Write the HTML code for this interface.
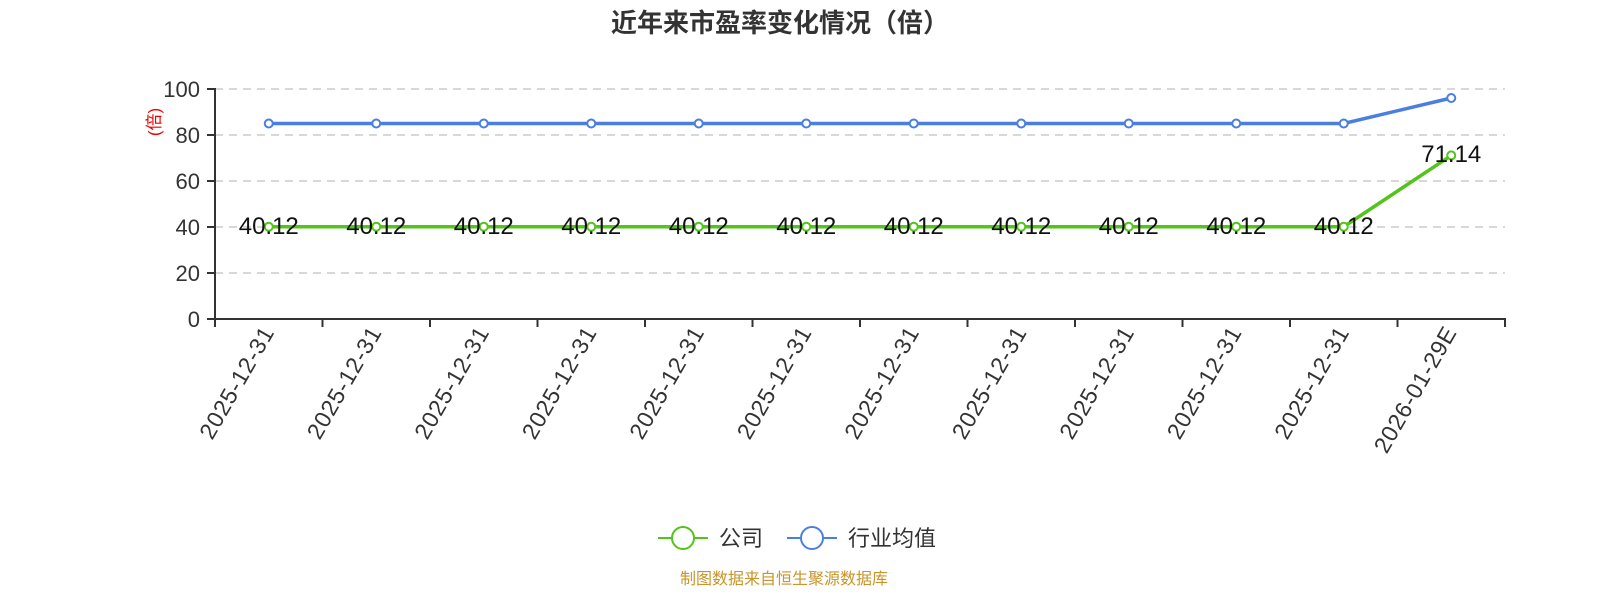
<!DOCTYPE html>
<html><head><meta charset="utf-8"><style>
body{margin:0;background:#fff;}
svg{display:block;font-family:"Liberation Sans","Noto Sans CJK SC",sans-serif;}
</style></head><body>
<svg width="1600" height="600" viewBox="0 0 1600 600" xmlns="http://www.w3.org/2000/svg">
<text x="780" y="32" text-anchor="middle" font-size="26" font-weight="bold" fill="#333">近年来市盈率变化情况（倍）</text>
<g stroke="#ccc" stroke-width="1.5" stroke-dasharray="8,6">
<line x1="215" y1="89" x2="1505" y2="89"/><line x1="215" y1="135" x2="1505" y2="135"/>
<line x1="215" y1="181" x2="1505" y2="181"/><line x1="215" y1="227" x2="1505" y2="227"/>
<line x1="215" y1="273" x2="1505" y2="273"/>
</g>
<g stroke="#333" stroke-width="2">
<line x1="215" y1="88" x2="215" y2="320"/><line x1="214" y1="319" x2="1506" y2="319"/>
<line x1="207" y1="89" x2="215" y2="89"/><line x1="207" y1="135" x2="215" y2="135"/><line x1="207" y1="181" x2="215" y2="181"/><line x1="207" y1="227" x2="215" y2="227"/><line x1="207" y1="273" x2="215" y2="273"/><line x1="207" y1="319" x2="215" y2="319"/>
<line x1="215" y1="319" x2="215" y2="327"/><line x1="322.5" y1="319" x2="322.5" y2="327"/><line x1="430" y1="319" x2="430" y2="327"/><line x1="537.5" y1="319" x2="537.5" y2="327"/><line x1="645" y1="319" x2="645" y2="327"/><line x1="752.5" y1="319" x2="752.5" y2="327"/><line x1="860" y1="319" x2="860" y2="327"/><line x1="967.5" y1="319" x2="967.5" y2="327"/><line x1="1075" y1="319" x2="1075" y2="327"/><line x1="1182.5" y1="319" x2="1182.5" y2="327"/><line x1="1290" y1="319" x2="1290" y2="327"/><line x1="1397.5" y1="319" x2="1397.5" y2="327"/><line x1="1505" y1="319" x2="1505" y2="327"/>
</g>
<g font-size="22" fill="#333" text-anchor="end">
<text x="200" y="97">100</text><text x="200" y="143">80</text><text x="200" y="189">60</text><text x="200" y="235">40</text><text x="200" y="281">20</text><text x="200" y="327">0</text>
</g>
<text transform="translate(160,122) rotate(-90)" text-anchor="middle" font-size="17" fill="#e00">(倍)</text>
<g font-size="23" fill="#333" text-anchor="end" letter-spacing="0.8">
<text transform="translate(275,332) rotate(-60)">2025-12-31</text>
<text transform="translate(382.5,332) rotate(-60)">2025-12-31</text>
<text transform="translate(490,332) rotate(-60)">2025-12-31</text>
<text transform="translate(597.5,332) rotate(-60)">2025-12-31</text>
<text transform="translate(705,332) rotate(-60)">2025-12-31</text>
<text transform="translate(812.5,332) rotate(-60)">2025-12-31</text>
<text transform="translate(920,332) rotate(-60)">2025-12-31</text>
<text transform="translate(1027.5,332) rotate(-60)">2025-12-31</text>
<text transform="translate(1135,332) rotate(-60)">2025-12-31</text>
<text transform="translate(1242.5,332) rotate(-60)">2025-12-31</text>
<text transform="translate(1350,332) rotate(-60)">2025-12-31</text>
<text transform="translate(1457.5,332) rotate(-60)">2026-01-29E</text>
</g>
<polyline fill="none" stroke="#4a7fe0" stroke-width="3.5" points="268.75,123.5 1343.75,123.5 1451.25,98"/>
<polyline fill="none" stroke="#52c41a" stroke-width="3.5" points="268.75,226.7 1343.75,226.7 1451.25,155.4"/>
<g fill="#fff" stroke="#4a7fe0" stroke-width="2">
<circle cx="268.75" cy="123.5" r="4"/><circle cx="376.25" cy="123.5" r="4"/><circle cx="483.75" cy="123.5" r="4"/><circle cx="591.25" cy="123.5" r="4"/><circle cx="698.75" cy="123.5" r="4"/><circle cx="806.25" cy="123.5" r="4"/><circle cx="913.75" cy="123.5" r="4"/><circle cx="1021.25" cy="123.5" r="4"/><circle cx="1128.75" cy="123.5" r="4"/><circle cx="1236.25" cy="123.5" r="4"/><circle cx="1343.75" cy="123.5" r="4"/><circle cx="1451.25" cy="98" r="4"/>
</g>
<g fill="#fff" stroke="#52c41a" stroke-width="2">
<circle cx="268.75" cy="226.7" r="4"/><circle cx="376.25" cy="226.7" r="4"/><circle cx="483.75" cy="226.7" r="4"/><circle cx="591.25" cy="226.7" r="4"/><circle cx="698.75" cy="226.7" r="4"/><circle cx="806.25" cy="226.7" r="4"/><circle cx="913.75" cy="226.7" r="4"/><circle cx="1021.25" cy="226.7" r="4"/><circle cx="1128.75" cy="226.7" r="4"/><circle cx="1236.25" cy="226.7" r="4"/><circle cx="1343.75" cy="226.7" r="4"/><circle cx="1451.25" cy="155.4" r="4"/>
</g>
<g font-size="24" fill="#111" text-anchor="middle">
<text x="268.75" y="234">40.12</text><text x="376.25" y="234">40.12</text><text x="483.75" y="234">40.12</text><text x="591.25" y="234">40.12</text><text x="698.75" y="234">40.12</text><text x="806.25" y="234">40.12</text><text x="913.75" y="234">40.12</text><text x="1021.25" y="234">40.12</text><text x="1128.75" y="234">40.12</text><text x="1236.25" y="234">40.12</text><text x="1343.75" y="234">40.12</text><text x="1451.25" y="162">71.14</text>
</g>
<line x1="658" y1="538" x2="708" y2="538" stroke="#52c41a" stroke-width="2"/>
<circle cx="683" cy="538" r="11" fill="#fff" stroke="#52c41a" stroke-width="2"/>
<text x="719" y="546" font-size="22" fill="#333">公司</text>
<line x1="787" y1="538" x2="837" y2="538" stroke="#4a7fe0" stroke-width="2"/>
<circle cx="812" cy="538" r="11" fill="#fff" stroke="#4a7fe0" stroke-width="2"/>
<text x="848" y="546" font-size="22" fill="#333">行业均值</text>
<text x="784" y="584" text-anchor="middle" font-size="16" fill="#c8952a">制图数据来自恒生聚源数据库</text>
</svg>
</body></html>
